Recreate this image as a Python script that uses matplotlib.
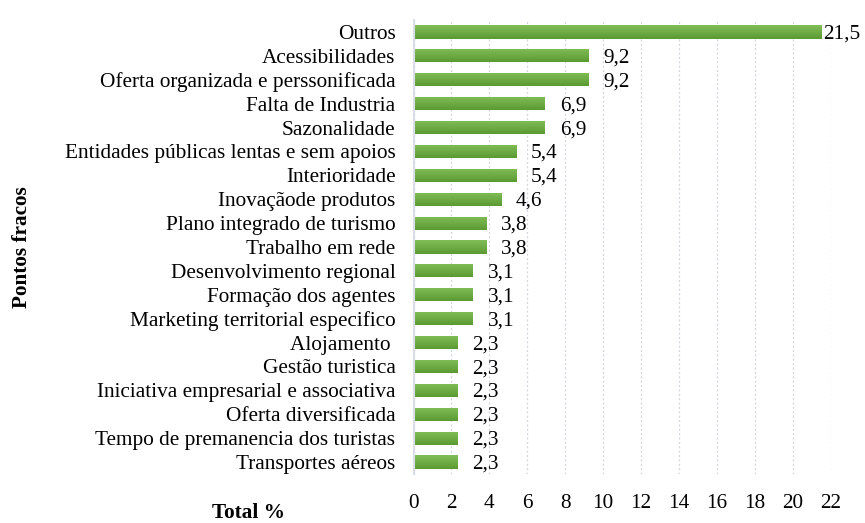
import matplotlib
matplotlib.use("Agg")
import matplotlib.pyplot as plt
import numpy as np
from matplotlib.colors import LinearSegmentedColormap

categories = ["Outros", "Acessibilidades", "Oferta organizada e perssonificada",
              "Falta de Industria", "Sazonalidade", "Entidades públicas lentas e sem apoios",
              "Interioridade", "Inovaçãode produtos", "Plano integrado de turismo",
              "Trabalho em rede", "Desenvolvimento regional", "Formação dos agentes",
              "Marketing territorial especifico", "Alojamento ", "Gestão turistica",
              "Iniciativa empresarial e associativa", "Oferta diversificada",
              "Tempo de premanencia dos turistas", "Transportes aéreos"]
values = [21.5, 9.2, 9.2, 6.9, 6.9, 5.4, 5.4, 4.6, 3.8, 3.8, 3.1, 3.1, 3.1,
          2.3, 2.3, 2.3, 2.3, 2.3, 2.3]
labels = ["21,5", "9,2", "9,2", "6,9", "6,9", "5,4", "5,4", "4,6", "3,8", "3,8",
          "3,1", "3,1", "3,1", "2,3", "2,3", "2,3", "2,3", "2,3", "2,3"]
xticks = list(range(0, 23, 2))

FS = 15.3
plt.rcParams['font.family'] = ['Liberation Serif', 'DejaVu Serif']
fig = plt.figure(figsize=(8.65, 5.23), dpi=100)
ax = fig.add_axes([413.5 / 865, 1 - 474 / 523, (830.7 - 413.5) / 865, (474 - 20) / 523])

y = np.arange(len(categories))
bars = ax.barh(y, values, height=0.55, color="#6aab40", zorder=3)

grad = np.linspace(0, 1, 50).reshape(-1, 1)
cmap = LinearSegmentedColormap.from_list("g", ["#82be58", "#5b9a33"])
for b in bars:
    x0, y0 = b.get_x(), b.get_y()
    w, h = b.get_width(), b.get_height()
    im = ax.imshow(grad, extent=(x0, x0 + w, y0 + h, y0), aspect='auto',
                   cmap=cmap, zorder=4, interpolation='bilinear')
    im.set_clip_path(b)

ax.set_xlim(0, 22)
ax.set_ylim(len(categories) - 0.5, -0.5)
ax.set_yticks(y)
ax.set_yticklabels(categories, fontsize=FS)
ax.set_xticks(xticks)
ax.set_xticklabels([str(t) for t in xticks], fontsize=FS)
ax.tick_params(axis='both', length=0)
ax.tick_params(axis='x', pad=14.5)
ax.tick_params(axis='y', pad=13)

for s in ["top", "right", "bottom"]:
    ax.spines[s].set_visible(False)
ax.spines["left"].set_color("#d9dde6")
ax.spines["left"].set_linewidth(1.5)
ax.spines["left"].set_zorder(5)

ax.grid(axis='x', color="#d0d4de", linestyle=(0, (1.5, 2)), linewidth=0.9, zorder=0)
ax.set_axisbelow(True)

for yi, v, lab in zip(y, values, labels):
    off = 1.5 if v > 20 else 11
    ax.annotate(lab, (v, yi), xytext=(off, -1.5), textcoords='offset points',
                va='center', ha='left', fontsize=FS, annotation_clip=False)

fig.text(22 / 865, 1 - 247 / 523, "Pontos fracos", rotation=90, ha='center',
         va='center', fontsize=FS, fontweight='bold')
fig.text(248 / 865, 1 - 513 / 523, "Total %", ha='center', va='center',
         fontsize=FS, fontweight='bold')

fig.savefig("out.png", dpi=100)
